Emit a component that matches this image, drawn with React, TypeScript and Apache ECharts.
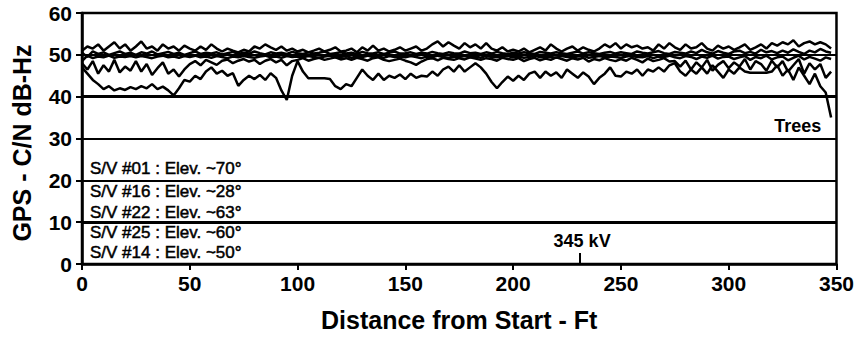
import React, { useEffect, useRef } from "react";
import * as echarts from "echarts";

const STEP_FT = 2.5;

const xTicks = [0, 50, 100, 150, 200, 250, 300, 350];
const yTicks = [0, 10, 20, 30, 40, 50, 60];

const legendLines = [
  "S/V #01 : Elev. ~70°",
  "S/V #16 : Elev. ~28°",
  "S/V #22 : Elev. ~63°",
  "S/V #25 : Elev. ~60°",
  "S/V #14 : Elev. ~50°",
];

// S/V #01 (upper trace)
const sv01 = [
  51, 52, 51.5, 52.5, 51, 52, 53, 51.5, 52.5, 51,
  52, 53.2, 51.5, 52, 51, 52.5, 51.5, 52, 51, 52.2,
  51.5, 51, 52, 51.2, 52.5, 51.5, 50.8, 51.5, 51, 50.6,
  51.2, 50.8, 52, 51.5, 52.5, 51.8, 51.2, 52, 51, 51.5,
  50.8, 51.2, 50.6, 51, 51.5, 50.8, 51.2, 51.8, 50.8, 51,
  51.5, 50.6, 51.8, 51, 52.2, 51, 51.5, 50.8, 51.2, 51.8,
  51, 51.5, 52, 51, 51.5, 52.5, 53.2, 52, 53, 52.2,
  51.5, 52.8, 51.8, 52.5, 51.5, 52.8, 51.5, 51, 51.8, 50.8,
  51.2, 50.8, 51.5, 50.6, 51.2, 51.8, 51, 52.5, 51.5, 50.8,
  51.5, 52, 51, 51.8, 51.2, 50.8, 51.5, 52.5, 51.8, 52.8,
  51.5, 52.5, 51.8, 52.2, 51.5, 51.8, 51, 52.5, 51.5, 52.8,
  51.8, 51.2, 52.5, 51.5, 51.8, 52.8, 51.5, 51, 52.2, 51.5,
  52, 51.2, 51.8, 52.5, 51.2, 51.8, 52.5, 51.5, 52.8, 52.2,
  53, 52.5, 53.5, 52, 52.8, 53.2, 52.5, 53, 52.5, 51.5,
];

// S/V #16 (lowest trace, drops under trees at the end)
const sv16 = [
  47, 45.5, 44, 43, 41.8, 42.5, 41.5, 42, 41.6, 42.3,
  41.8, 42.5, 42, 43, 41.8, 42.4, 41.5, 40.3, 42, 44,
  43.6, 45, 44.2, 46, 47, 45.5, 46.2, 45, 45.6, 42.6,
  44, 45, 44.2, 45.2, 44, 45.6, 44.5, 41.5, 39.2, 45,
  48.5, 46, 44.4, 44.4, 44.4, 44.4, 44.2, 42.5, 41.8, 43,
  42.5, 44.5, 46.5, 45, 44, 45.5, 44, 45, 44.5, 45.3,
  44.2, 45.5, 44.5, 45, 44.8, 46, 45, 46.5, 47.2, 46,
  47.5, 46, 47, 48, 47, 45.5, 43.5, 42, 43.5, 44.8,
  43.8, 45, 44, 45.5, 46, 44.5, 46, 45, 45.8, 44.5,
  46.5, 45.5, 44.5, 45.8, 44.8, 43, 44.5, 45.5, 47, 45,
  44.8, 46, 45.5, 46.5, 45, 46.5, 46, 47, 46, 47.5,
  48, 46, 45, 46.5, 45.5, 47, 45.5, 47.5, 46, 44.5,
  46.5, 45.5, 47, 46, 45.7, 45.7, 45.7, 45.7, 46, 47.5,
  45, 46.5, 44, 47, 45, 43, 45.5, 42.5, 41, 35,
];

// S/V #22
const sv22 = [
  50.5, 49.5, 50.8, 50.2, 50.6, 50, 50.4, 50.8, 50.2, 50.5,
  50, 50.6, 50.3, 50.8, 50.1, 50.4, 50.7, 50.2, 50.5, 50,
  50.4, 50.8, 50.2, 50.5, 50.3, 50.6, 50.1, 50.4, 50.7, 50.2,
  50.5, 50.3, 50.8, 50.4, 50.1, 50.6, 50.3, 50.5, 50.2, 50.7,
  50.4, 50.2, 50.6, 50.3, 50.5, 50.8, 50.2, 50.4, 50.6, 50.3,
  50.5, 50.2, 50.7, 50.4, 50.3, 50.6, 50.2, 50.5, 50.8, 50.3,
  50.4, 50.6, 50.2, 50.5, 50.3, 50.7, 50.4, 50.2, 50.6, 50.4,
  50.3, 50.8, 50.4, 50.5, 50.2, 50.6, 50.3, 50.7, 50.4, 50.2,
  50.5, 50.3, 50.6, 50.4, 50.2, 50.7, 50.5, 50.3, 50.6, 50.4,
  50.2, 50.5, 50.8, 50.3, 50.6, 50.4, 50.2, 50.5, 50.7, 50.3,
  50.6, 50.4, 50.2, 50.8, 50.5, 50.3, 50.6, 50.9, 50.4, 50.2,
  50.7, 50.5, 50.3, 50.8, 50.4, 51.2, 50.6, 50.3, 50.9, 50.5,
  50.2, 50.8, 51, 50.4, 50.7, 50.3, 51.2, 50.6, 50.9, 50.4,
  51, 50.5, 51.3, 50.7, 50.2, 51, 50.6, 51.4, 50.8, 50.5,
];

// S/V #25
const sv25 = [
  48.5, 49.8, 49.2, 49.6, 49.4, 49.8, 49.3, 49.6, 49.5, 49.7,
  49.4, 49.7, 49.5, 49.2, 49.6, 49.8, 49.4, 49.6, 49.3, 49.7,
  49.5, 49.8, 49.4, 49.6, 49.3, 49.7, 49.5, 49.2, 49.6, 49.4,
  49.7, 49.5, 49.3, 49.6, 49.8, 49.4, 49.6, 49.3, 49.7, 49.5,
  49.6, 49.4, 49.7, 49.5, 49.3, 49.6, 49.8, 49.4, 49.5, 49.7,
  49.3, 49.6, 49.5, 49.8, 49.4, 49.6, 49.3, 49.7, 49.5, 49.6,
  49.4, 49.7, 49.5, 49.2, 49.6, 49.4, 49.8, 49.5, 49.3, 49.6,
  49.5, 49.7, 49.4, 49.6, 49.3, 49.8, 49.5, 49.4, 49.6, 49.7,
  49.4, 49.6, 49.3, 49.5, 49.8, 49.4, 49.6, 49.5, 49.3, 49.7,
  49.5, 49.4, 49.6, 49.8, 49.3, 49.5, 49.7, 49.4, 49.6, 49.5,
  49.3, 49.6, 49.8, 49.5, 49.4, 49.7, 49.2, 49.6, 49.5, 49.8,
  49.4, 49.2, 49.7, 49.5, 49, 49.6, 49.3, 49.8, 49.1, 49.5,
  49.6, 49, 49.4, 49.7, 48.8, 49.5, 49.2, 49.8, 48.9, 49.4,
  49.6, 48.7, 49.3, 49.8, 48.9, 49.5, 49.1, 48.6, 49.4, 49,
];

// S/V #14
const sv14 = [
  48, 46.5, 48.5, 45.5, 47.5, 46, 48.8, 45.8, 47.2, 46.2,
  48.5, 46, 47.8, 45.2, 46.8, 48.2, 45.5, 46.5, 44.8, 46.5,
  47.8, 48.5, 47.5, 48.8, 48.2, 47.6, 48.6, 48.9, 48, 48.6,
  49, 48.4, 48.8, 47.8, 48.6, 49, 48.2, 48.8, 47.5, 48.5,
  48.8, 49.2, 48.6, 49, 49.3, 48.8, 49.1, 49.4, 48.9, 49.2,
  48.8, 49.3, 49, 48.6, 49.2, 49.4, 48.8, 48.5, 48.8, 49.1,
  48.6, 48.2, 47.6, 48.4, 49, 49.2, 48.7, 49.3, 49, 48.8,
  49.2, 48.9, 49.4, 49.1, 48.8, 49.2, 49, 48.6, 49.3, 49,
  48.8, 49.2, 48.5, 49, 49.3, 48.7, 49.1, 48.8, 49.4, 49,
  48.6, 49.2, 48.9, 49.3, 48.4, 49, 48.7, 49.2, 48.8, 48.5,
  49, 48.6, 49.3, 48.8, 48.2, 49.1, 48.5, 48.8, 49.2, 48.4,
  48.5, 47.2, 48.6, 46.5, 48.2, 47, 48.8, 46.2, 47.6, 48.5,
  46.8, 48.2, 47.2, 49, 46.5, 48.5, 47.8, 46.2, 48.6, 47,
  48.5, 46, 47.5, 49, 45.5, 48, 46.5, 47.8, 44.5, 46,
];

// Annotations (data coordinates)
const kvLabel = "345 kV";
const kvAt = 231;
const treesLabel = "Trees";
const treesAt: [number, number] = [332, 33];

const FONT = "'Liberation Sans', Arial, Helvetica, sans-serif";

const toPairs = (vals: number[]) => vals.map((v, i) => [i * STEP_FT, v]);

export default function App() {
  const ref = useRef<HTMLDivElement>(null);

  useEffect(() => {
    if (!ref.current) return;
    const chart = echarts.init(ref.current, null, { renderer: "svg" });

    const lineSeries = (name: string, vals: number[], extra: any = {}) => ({
      name,
      type: "line",
      data: toPairs(vals),
      showSymbol: false,
      symbol: "none",
      lineStyle: { color: "#000", width: 2.5 },
      silent: true,
      z: 3,
      ...extra,
    });

    const legendY = [168, 191, 212, 232, 252];

    chart.setOption({
      animation: false,
      backgroundColor: "#fff",
      grid: {
        left: 82,
        right: 20,
        top: 13,
        bottom: 73,
        show: true,
        borderColor: "#000",
        borderWidth: 2.5,
        backgroundColor: "transparent",
      },
      xAxis: {
        type: "value",
        min: 0,
        max: 350,
        interval: 50,
        name: "Distance from Start - Ft",
        nameLocation: "middle",
        nameGap: 43,
        nameTextStyle: { fontFamily: FONT, fontWeight: "bold", fontSize: 25, color: "#000" },
        axisLine: { show: true, lineStyle: { color: "#000", width: 2.5 } },
        axisTick: { show: true, length: 6, lineStyle: { color: "#000", width: 2 } },
        axisLabel: {
          fontFamily: FONT,
          fontWeight: "bold",
          fontSize: 21,
          color: "#000",
          margin: 9,
          formatter: (v: number) => (xTicks.includes(v) ? String(v) : ""),
        },
        splitLine: { show: false },
      },
      yAxis: {
        type: "value",
        min: 0,
        max: 60,
        interval: 10,
        axisLine: { show: true, lineStyle: { color: "#000", width: 2.5 } },
        axisTick: { show: true, length: 6, lineStyle: { color: "#000", width: 2 } },
        axisLabel: {
          fontFamily: FONT,
          fontWeight: "bold",
          fontSize: 21,
          color: "#000",
          margin: 10,
          formatter: (v: number) => (yTicks.includes(v) ? String(v) : ""),
        },
        splitLine: { show: true, lineStyle: { color: "#000", width: 2 } },
      },
      graphic: [
        {
          type: "text",
          x: 22,
          y: 143,
          rotation: Math.PI / 2,
          style: {
            text: "GPS - C/N dB-Hz",
            fontFamily: FONT,
            fontWeight: "bold",
            fontSize: 25,
            fill: "#000",
            align: "center",
            verticalAlign: "middle",
          },
        },
        ...legendLines.map((t, i) => ({
          type: "text",
          x: 90,
          y: legendY[i],
          style: {
            text: t,
            fontFamily: FONT,
            fontWeight: "normal",
            fontSize: 17,
            fill: "#000",
            stroke: "#000",
            lineWidth: 0.5,
            align: "left",
            verticalAlign: "middle",
          },
        })),
      ],
      series: [
        lineSeries("S/V #14", sv14),
        lineSeries("S/V #25", sv25),
        lineSeries("S/V #22", sv22),
        lineSeries("S/V #01", sv01),
        lineSeries("S/V #16", sv16, {
          markLine: {
            silent: true,
            symbol: ["none", "none"],
            label: { show: false },
            lineStyle: { color: "#000", width: 3, type: "solid" },
            data: [
              { yAxis: 40 },
              { yAxis: 10 },
              [
                { coord: [kvAt, 0], lineStyle: { width: 2 } },
                { coord: [kvAt, 2.6] },
              ],
            ],
          },
          markPoint: {
            silent: true,
            symbol: "circle",
            symbolSize: 0,
            data: [
              {
                coord: [kvAt + 1, 5.4],
                label: {
                  show: true,
                  formatter: kvLabel,
                  fontFamily: FONT,
                  fontWeight: "bold",
                  fontSize: 18,
                  color: "#000",
                },
              },
              {
                coord: treesAt,
                label: {
                  show: true,
                  formatter: treesLabel,
                  fontFamily: FONT,
                  fontWeight: "bold",
                  fontSize: 18,
                  color: "#000",
                },
              },
            ],
          },
        }),
      ],
    });

    return () => chart.dispose();
  }, []);

  return (
    <div
      ref={ref}
      style={{ position: "fixed", left: 0, top: 0, width: 857, height: 337, background: "#fff" }}
    />
  );
}
